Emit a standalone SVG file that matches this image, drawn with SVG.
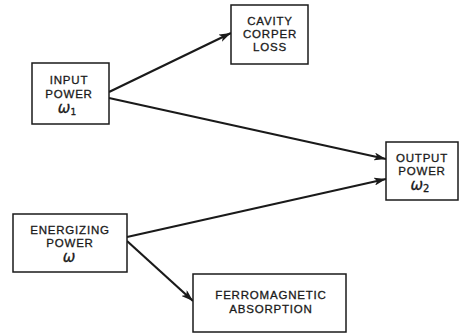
<svg xmlns="http://www.w3.org/2000/svg" width="460" height="336" viewBox="0 0 460 336">
<style>
.box{fill:#fff;stroke:#1a1a1a;stroke-width:1.5}
.t{font-family:"Liberation Sans",Arial,sans-serif;font-size:11.5px;fill:#1a1a1a;stroke:#1a1a1a;stroke-width:0.3;text-anchor:middle;letter-spacing:0.8px}
.w{font-family:"DejaVu Sans",sans-serif;font-style:italic;font-size:15px;fill:#1a1a1a;stroke:#1a1a1a;stroke-width:0.3;text-anchor:middle}
.c{stroke:#1a1a1a;stroke-width:2.2;fill:none;marker-end:url(#ah)}
</style>
<defs>
<marker id="ah" viewBox="0 0 12 8" refX="12" refY="4" markerWidth="12" markerHeight="8" markerUnits="userSpaceOnUse" orient="auto">
<path d="M0,0 L12,4 L0,8 L3,4 Z" fill="#1a1a1a"/>
</marker>
</defs>
<rect width="460" height="336" fill="#fff"/>
<g id="connectors">
<line class="c" x1="109" y1="92" x2="231" y2="33"/>
<line class="c" x1="109" y1="98" x2="386" y2="159"/>
<line class="c" x1="127" y1="237" x2="386" y2="179"/>
<line class="c" x1="127" y1="241" x2="193" y2="301"/>
</g>
<g id="cavity">
<rect class="box" x="231" y="5" width="77" height="59"/>
<text class="t" x="270" y="25">CAVITY</text>
<text class="t" x="270" y="38">CORPER</text>
<text class="t" x="270" y="51">LOSS</text>
</g>
<g id="input">
<rect class="box" x="32" y="63" width="77" height="61"/>
<text class="t" x="69" y="84">INPUT</text>
<text class="t" x="69" y="98">POWER</text>
<text class="w" x="67" y="113">ω<tspan font-size="9" font-style="normal" dy="2">1</tspan></text>
</g>
<g id="output">
<rect class="box" x="386" y="142" width="72" height="58"/>
<text class="t" x="422" y="162">OUTPUT</text>
<text class="t" x="422" y="175">POWER</text>
<text class="w" x="420" y="190">ω<tspan font-size="10" font-style="normal" dy="2">2</tspan></text>
</g>
<g id="energizing">
<rect class="box" x="13" y="214" width="114" height="58"/>
<text class="t" x="70" y="234">ENERGIZING</text>
<text class="t" x="70" y="247">POWER</text>
<text class="w" x="69" y="262">ω</text>
</g>
<g id="ferro">
<rect class="box" x="193" y="274" width="153" height="58"/>
<text class="t" x="271" y="299">FERROMAGNETIC</text>
<text class="t" x="271" y="313">ABSORPTION</text>
</g>
</svg>
